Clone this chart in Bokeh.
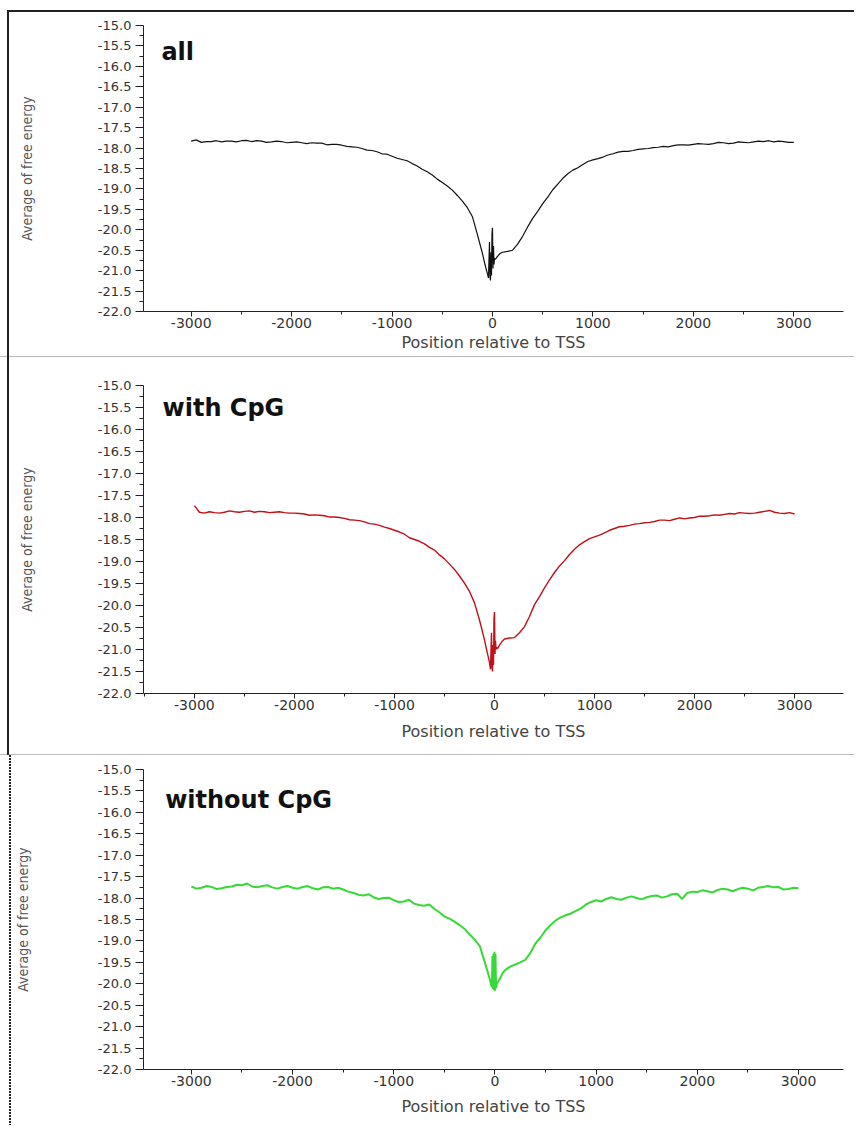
from bokeh.plotting import figure
from bokeh.layouts import column
from bokeh.models import FixedTicker, PrintfTickFormatter, Label, ColumnDataSource
from bokeh.embed import file_html
from bokeh.resources import INLINE

# ---------------- data ----------------
LEFT_POS = list(range(-3000, -399, 50))
CENTER_POS = [-350, -300, -250, -200, -150, -100, -75, -50, -40, -30, -25, -20, -15,
              -10, -5, 0, 5, 10, 15, 20, 30, 50, 75, 100, 150, 200, 250, 300, 350, 400]
RIGHT_POS = list(range(450, 3001, 50))
POSITIONS = LEFT_POS + CENTER_POS + RIGHT_POS

ALL_ENERGY = [
    # -3000 .. -400
    -17.83, -17.80, -17.86, -17.84, -17.84, -17.82, -17.85, -17.83, -17.83, -17.85,
    -17.82, -17.81, -17.84, -17.82, -17.83, -17.86, -17.85, -17.83, -17.84, -17.87,
    -17.86, -17.85, -17.87, -17.89, -17.87, -17.88, -17.88, -17.92, -17.91, -17.91,
    -17.93, -17.96, -17.97, -17.98, -18.01, -18.05, -18.06, -18.09, -18.14, -18.15,
    -18.20, -18.25, -18.28, -18.31, -18.38, -18.44, -18.52, -18.58, -18.66, -18.76,
    -18.84, -18.93, -19.03,
    # -350 .. 400
    -19.16, -19.30, -19.46, -19.68, -20.12, -20.58, -20.85, -21.08, -21.18, -20.30,
    -21.15, -21.24, -20.55, -21.12, -20.10, -19.95, -20.95, -20.40, -20.85, -20.70,
    -20.72, -20.65, -20.58, -20.55, -20.53, -20.50, -20.35, -20.16, -19.93, -19.72,
    # 450 .. 3000
    -19.55, -19.36, -19.20, -19.02, -18.88, -18.74, -18.63, -18.54, -18.48, -18.40,
    -18.33, -18.29, -18.26, -18.22, -18.17, -18.14, -18.10, -18.08, -18.08, -18.06,
    -18.03, -18.02, -18.01, -17.99, -17.98, -17.96, -17.97, -17.94, -17.92, -17.92,
    -17.93, -17.91, -17.89, -17.90, -17.91, -17.89, -17.86, -17.87, -17.89, -17.88,
    -17.85, -17.86, -17.87, -17.85, -17.83, -17.84, -17.82, -17.85, -17.83, -17.84,
    -17.86, -17.86,
]

WITH_CPG = [
    -17.73, -17.88, -17.90, -17.87, -17.89, -17.90, -17.88, -17.85, -17.87, -17.88,
    -17.86, -17.85, -17.88, -17.86, -17.87, -17.89, -17.88, -17.87, -17.89, -17.90,
    -17.90, -17.91, -17.92, -17.95, -17.94, -17.95, -17.96, -17.99, -17.99, -18.00,
    -18.02, -18.05, -18.06, -18.07, -18.10, -18.14, -18.15, -18.18, -18.22, -18.25,
    -18.29, -18.33, -18.38, -18.46, -18.50, -18.54, -18.60, -18.68, -18.74, -18.85,
    -18.94, -19.06, -19.18,
    -19.33, -19.49, -19.68, -19.94, -20.33, -20.78, -21.05, -21.30, -21.45, -20.62,
    -21.40, -21.50, -20.90, -21.35, -20.30, -20.15, -21.10, -20.80, -21.00, -20.95,
    -20.98, -20.90, -20.82, -20.76, -20.74, -20.73, -20.62, -20.48, -20.25, -19.98,
    -19.80, -19.60, -19.42, -19.25, -19.10, -18.98, -18.84, -18.72, -18.62, -18.55,
    -18.48, -18.44, -18.40, -18.35, -18.29, -18.25, -18.21, -18.20, -18.18, -18.15,
    -18.14, -18.12, -18.11, -18.09, -18.06, -18.06, -18.07, -18.04, -18.01, -18.03,
    -18.01, -18.00, -17.97, -17.97, -17.96, -17.94, -17.95, -17.93, -17.91, -17.92,
    -17.89, -17.90, -17.91, -17.90, -17.88, -17.86, -17.84, -17.88, -17.90, -17.91,
    -17.89, -17.92,
]

WITHOUT_CPG = [
    -17.73, -17.78, -17.76, -17.72, -17.74, -17.79, -17.77, -17.74, -17.73, -17.69,
    -17.70, -17.66, -17.73, -17.75, -17.72, -17.70, -17.75, -17.78, -17.74, -17.72,
    -17.76, -17.78, -17.74, -17.72, -17.77, -17.80, -17.75, -17.74, -17.78, -17.76,
    -17.80, -17.85, -17.88, -17.92, -17.94, -17.91, -17.98, -18.02, -18.00, -17.99,
    -18.05, -18.09, -18.08, -18.04, -18.13, -18.16, -18.18, -18.15, -18.25, -18.33,
    -18.43, -18.48, -18.55,
    -18.63, -18.72, -18.85, -18.97, -19.12, -19.50, -19.70, -19.90, -20.00, -20.08,
    -19.35, -20.12, -19.30, -20.15, -19.25, -20.16, -19.30, -20.10, -20.05, -19.98,
    -19.95, -19.88, -19.75, -19.68, -19.60, -19.55, -19.50, -19.44, -19.28, -19.06,
    -18.92, -18.75, -18.63, -18.52, -18.45, -18.40, -18.36, -18.30, -18.24, -18.15,
    -18.09, -18.05, -18.08, -18.02, -17.98, -18.02, -18.04, -17.99, -17.96, -18.00,
    -18.03, -17.98, -17.95, -17.94, -17.99, -17.96, -17.91, -17.90, -18.02, -17.88,
    -17.85, -17.86, -17.82, -17.84, -17.87, -17.81, -17.78, -17.80, -17.84, -17.79,
    -17.76, -17.78, -17.82, -17.76, -17.74, -17.72, -17.75, -17.74, -17.80, -17.79,
    -17.76, -17.77,
]

PANEL_NAMES = ["all", "with CpG", "without CpG"]
X_TICKS = [-3000, -2000, -1000, 0, 1000, 2000, 3000]
X_MINOR = [-3500, -2500, -1500, -500, 500, 1500, 2500, 3500]
Y_TICKS = [-15.0, -15.5, -16.0, -16.5, -17.0, -17.5, -18.0, -18.5, -19.0,
           -19.5, -20.0, -20.5, -21.0, -21.5, -22.0]
Y_MINOR = [-15.25, -15.75, -16.25, -16.75, -17.25, -17.75, -18.25, -18.75,
           -19.25, -19.75, -20.25, -20.75, -21.25, -21.75]
X_TITLE = "Position relative to TSS"
Y_TITLE = "Average of free energy"

# ---------------- style ----------------
TICK_FONT = "DejaVu Sans"
YLAB_FONT = "DejaVu Sans Condensed, DejaVu Sans, sans-serif"
FIG_W = 854


def make_panel(series, name, color, lw, cfg):
    p = figure(width=FIG_W, height=cfg["height"],
               x_range=cfg["xr"], y_range=(-22.0, -15.0),
               output_backend="svg", toolbar_location=None,
               min_border_left=cfg["left"], min_border_right=cfg["right"],
               min_border_top=cfg["top"], min_border_bottom=cfg["bottom"],
               background_fill_color="white", border_fill_color=None)
    p.styles = {"background": cfg["bg"]}
    p.outline_line_color = None
    p.xgrid.grid_line_color = None
    p.ygrid.grid_line_color = None
    src = ColumnDataSource(dict(x=POSITIONS, y=series))
    p.line("x", "y", source=src, line_color=color, line_width=lw)

    xa = p.xaxis[0]
    xa.ticker = FixedTicker(ticks=X_TICKS, minor_ticks=X_MINOR)
    xa.formatter = PrintfTickFormatter(format="%d")
    xa.axis_line_color = "#222222"
    xa.major_tick_line_color = "#222222"
    xa.minor_tick_line_color = "#222222"
    xa.major_tick_out = 5
    xa.major_tick_in = 0
    xa.minor_tick_out = 3
    xa.minor_tick_in = 0
    xa.major_label_text_font = TICK_FONT
    xa.major_label_text_font_size = "14px"
    xa.major_label_text_color = "#333333"
    xa.major_label_standoff = 1
    xa.axis_label = X_TITLE
    xa.axis_label_text_font = TICK_FONT
    xa.axis_label_text_font_size = "16px"
    xa.axis_label_text_font_style = "normal"
    xa.axis_label_text_color = "#444444"
    xa.axis_label_standoff = cfg["xstand"]

    ya = p.yaxis[0]
    ya.ticker = FixedTicker(ticks=Y_TICKS, minor_ticks=Y_MINOR)
    ya.formatter = PrintfTickFormatter(format="%.1f")
    ya.axis_line_color = "#222222"
    ya.major_tick_line_color = "#222222"
    ya.minor_tick_line_color = "#222222"
    ya.major_tick_out = 8
    ya.major_tick_in = 0
    ya.minor_tick_out = 4
    ya.minor_tick_in = 0
    ya.major_label_text_font = TICK_FONT
    ya.major_label_text_font_size = "13px"
    ya.major_label_text_color = "#333333"
    ya.major_label_standoff = 4
    ya.axis_label = Y_TITLE
    ya.axis_label_text_font = YLAB_FONT
    ya.axis_label_text_font_size = "14px"
    ya.axis_label_text_font_style = "normal"
    ya.axis_label_text_color = "#555555"
    ya.axis_label_standoff = cfg["ystand"]

    p.add_layout(Label(x=cfg["lx"], y=cfg["ly"], text=name,
                       text_font="DejaVu Sans", text_font_style="bold",
                       text_font_size="24px", text_color="#111111",
                       text_align="left", text_baseline="alphabetic"))
    return p


BG1 = ("linear-gradient(#222,#222) 8px 10px / 846px 2px no-repeat, "
       "linear-gradient(#222,#222) 7px 10px / 2px 347px no-repeat, "
       "linear-gradient(#bbb,#bbb) 0px 356px / 100% 1px no-repeat, white")
BG2 = ("linear-gradient(#222,#222) 7px 0px / 2px 398px no-repeat, "
       "linear-gradient(#bbb,#bbb) 0px 397px / 100% 1px no-repeat, white")
BG3 = ("repeating-linear-gradient(#222 0px, #222 2px, #fff 2px, #fff 3px) 9px 0px / 2px 370px no-repeat, "
       "white")

cfgs = [
    dict(height=357, top=25, bottom=46, left=137, right=FIG_W - 843,
         xr=(-3475, 3495), xstand=2, ystand=60, lx=-3297, ly=-15.66, bg=BG1),
    dict(height=398, top=28, bottom=62, left=137, right=FIG_W - 853,
         xr=(-3509, 3489), xstand=9, ystand=60, lx=-3319, ly=-15.52, bg=BG2),
    dict(height=370, top=14, bottom=56, left=143, right=0,
         xr=(-3473, 3444), xstand=8, ystand=64, lx=-3259, ly=-15.72, bg=BG3),
]

p1 = make_panel(ALL_ENERGY, PANEL_NAMES[0], "#111111", 1.2, cfgs[0])
p2 = make_panel(WITH_CPG, PANEL_NAMES[1], "#c01018", 1.4, cfgs[1])
p3 = make_panel(WITHOUT_CPG, PANEL_NAMES[2], "#36d936", 2.0, cfgs[2])

layout = column(p1, p2, p3, spacing=0)

with open("out.html", "w") as f:
    f.write(file_html(layout, INLINE))
